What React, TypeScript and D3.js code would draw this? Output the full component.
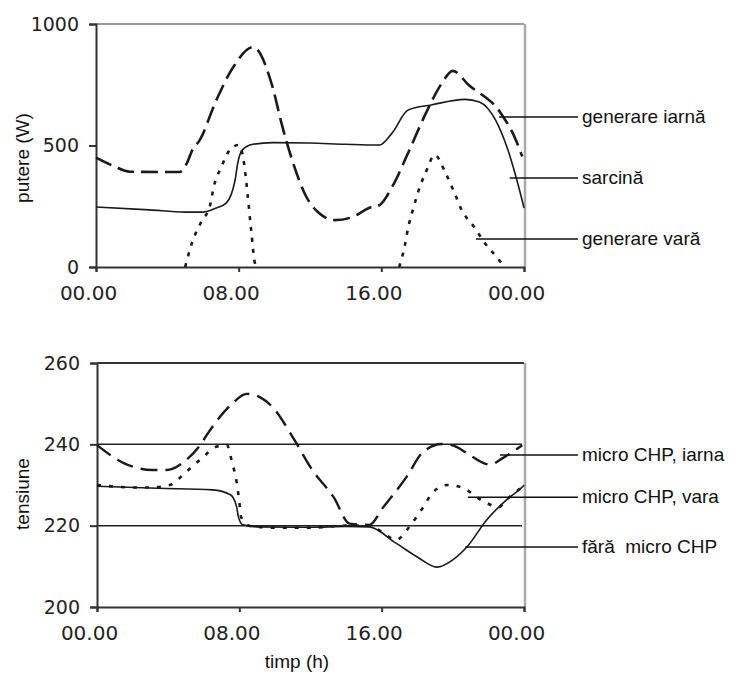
import React, { useEffect, useRef } from 'react';
import * as d3 from 'd3';

// axis ticks
const hourTicks = [0, 8, 16, 24];
const hourLabels = ['00.00', '08.00', '16.00', '00.00'];
const powerTicks = [0, 500, 1000];
const voltTicks = [200, 220, 240, 260];
const voltRefLines = [220, 240];

// top chart: putere (W)
const winterGenHours = [0, 1, 1.9, 4.7, 5.1, 5.4, 5.8, 6.75, 7.7, 8.8, 9.9, 10.4, 11, 11.8, 12.5, 13.4, 14.4, 15.3, 15.9, 16.6, 17.5, 18.5, 19.4, 20, 20.9, 22.7, 23.5, 23.9];
const winterGenValues = [450, 415, 392, 391, 428, 481, 520, 687, 823, 905, 741, 592, 440, 288, 222, 193, 206, 243, 255, 329, 469, 633, 757, 807, 749, 633, 530, 455];

const loadHours = [0, 3, 5, 6, 6.75, 7.3, 7.8, 7.95, 8.2, 8.8, 9.9, 12, 14, 15.9, 16.6, 17.5, 18.8, 20.7, 21.5, 22.4, 23.1, 23.7, 24];
const loadValues = [247, 235, 226, 226, 243, 263, 358, 428, 481, 505, 512, 510, 505, 502, 551, 646, 667, 690, 679, 605, 481, 330, 243];

const summerGenHours = [5, 5.4, 5.9, 6.4, 6.6, 7, 7.6, 8, 8.3, 8.5, 8.7, 8.9, 9, 12, 17, 17.3, 17.5, 17.8, 18.1, 18.5, 19, 19.6, 20.1, 20.5, 21.2, 21.8, 22.6, 22.9];
const summerGenValues = [0, 103, 185, 255, 329, 407, 490, 502, 428, 300, 152, 20, 0, null, 0, 82, 160, 243, 317, 391, 461, 387, 305, 235, 165, 99, 29, 0];

// bottom chart: tensiune
const chpWinterHours = [0, 1.5, 3.1, 3.9, 5, 5.8, 6.2, 7.6, 8.4, 9.2, 9.9, 11, 12.1, 13.3, 14.2, 15.3, 16.1, 17.4, 18.3, 19.4, 20.2, 20.8, 22.1, 22.8, 23.9];
const chpWinterValues = [239.8, 235.4, 233.7, 233.7, 236.1, 239.8, 242.5, 250, 252.4, 251.5, 249, 241.8, 233.7, 227, 220.5, 220.2, 224.6, 232, 238, 240.1, 239.4, 237.8, 235, 236.6, 239.8];

const chpSummerHours = [0, 1, 2, 3, 4.1, 5, 5.9, 6.7, 7.3, 7.6, 7.85, 8, 8.1, 8.6, 10, 12, 14, 15.3, 16, 16.8, 17.7, 18.3, 18.9, 19.7, 20.6, 21.6, 22.6, 23, 23.9];
const chpSummerValues = [230, 229.6, 229.4, 229.4, 230, 233.2, 236.6, 239.4, 239.8, 235.4, 230.7, 225.8, 222.1, 219.9, 219.5, 219.5, 220, 220, 218.5, 216.5, 220.6, 224.3, 228.3, 230, 229.2, 226.3, 224.6, 226.3, 229.5];

const noChpHours = [0, 3.4, 6.5, 7.5, 7.85, 7.95, 8.2, 9, 12, 14, 15.3, 16.8, 18, 19.1, 20, 20.8, 21.9, 23, 23.9, 24];
const noChpValues = [229.7, 229.2, 228.8, 227.6, 224.6, 222.1, 220.2, 219.7, 219.6, 219.8, 219.7, 215.7, 212.3, 209.8, 211.6, 214.8, 221.4, 226.3, 229.5, 230];

// labels with leader lines (start point on the curve: hour, value)
const topLabels = ['generare iarnă', 'sarcină', 'generare vară'];
const topLabelHours = [22.6, 23.2, 21.3];
const topLabelValues = [617, 366, 115];
const bottomLabels = ['micro CHP, iarna', 'micro CHP, vara', 'fără  micro CHP'];
const bottomLabelHours = [22.65, 20.85, 20.7];
const bottomLabelValues = [237.4, 227, 214.75];

const pairs = (hs, vs) => hs.map((h, i) => ({ h, v: vs[i] }));

const FONT = '"Liberation Sans", Arial, sans-serif';
const TICK_FONT = '"DejaVu Sans", sans-serif';

const App = () => {
  const ref = useRef(null);

  useEffect(() => {
    const svg = d3.select(ref.current);
    svg.selectAll('*').remove();

    function drawPanel(opts) {
      const { x, y, yTicks, series, labels, labelHours, labelValues, refLines, frameTopColor, yTitle, yTitleCenter } = opts;
      const g = svg.append('g');
      const [x0, x1] = x.range();
      const [yb, yt] = y.range();

      // frame top + right
      g.append('line').attr('x1', x0).attr('x2', x1).attr('y1', yt).attr('y2', yt)
        .attr('stroke', frameTopColor).attr('stroke-width', 2);
      g.append('line').attr('x1', x1 + 1).attr('x2', x1 + 1).attr('y1', yt).attr('y2', yb)
        .attr('stroke', '#aaa').attr('stroke-width', 2.5);

      (refLines || []).forEach(v => {
        g.append('line').attr('x1', x0).attr('x2', x1 - 2).attr('y1', y(v)).attr('y2', y(v))
          .attr('stroke', '#222').attr('stroke-width', 1.5);
      });

      const yAxis = g.append('g').attr('transform', `translate(${x0},0)`)
        .call(d3.axisLeft(y).tickValues(yTicks).tickSize(7).tickPadding(10).tickFormat(d3.format('d')));
      yAxis.select('.domain').attr('stroke', '#333').attr('stroke-width', 2);
      yAxis.selectAll('.tick line').attr('stroke', '#333').attr('stroke-width', 2);
      yAxis.selectAll('text').attr('font-family', TICK_FONT).attr('font-size', 19).attr('fill', '#222');

      const xAxis = g.append('g').attr('transform', `translate(0,${yb})`)
        .call(d3.axisBottom(x).tickValues(hourTicks).tickSize(5).tickPadding(14).tickFormat((d, i) => hourLabels[i]));
      xAxis.select('.domain').attr('stroke', '#333').attr('stroke-width', 2);
      xAxis.selectAll('.tick line').attr('stroke', '#333').attr('stroke-width', 2);
      xAxis.selectAll('text').attr('font-family', TICK_FONT).attr('font-size', 20).attr('fill', '#222')
        .attr('dx', -8);

      series.forEach(s => {
        const line = d3.line()
          .defined(d => d.v != null)
          .x(d => x(d.h))
          .y(d => y(d.v))
          .curve(d3.curveMonotoneX);
        g.append('path')
          .attr('d', line(s.data))
          .attr('fill', 'none')
          .attr('stroke', '#1a1a1a')
          .attr('stroke-width', s.width)
          .attr('stroke-dasharray', s.dash)
          .attr('stroke-linejoin', 'round');
      });

      labels.forEach((name, i) => {
        const sx = x(labelHours[i]);
        const sy = y(labelValues[i]);
        g.append('line').attr('x1', sx).attr('x2', 578).attr('y1', sy).attr('y2', sy)
          .attr('stroke', '#111').attr('stroke-width', 1.5);
        g.append('text').attr('x', 582).attr('y', sy).attr('dy', '0.33em')
          .attr('font-family', FONT).attr('font-size', 19).attr('fill', '#111')
          .style('white-space', 'pre')
          .text(name);
      });

      g.append('text')
        .attr('transform', `translate(29,${yTitleCenter}) rotate(-90)`)
        .attr('text-anchor', 'middle')
        .attr('font-family', FONT).attr('font-size', 19).attr('fill', '#111')
        .text(yTitle);
    }

    const xTop = d3.scaleLinear().domain([0, 24]).range([96, 524]);
    const yTop = d3.scaleLinear().domain([0, 1000]).range([267, 24]);
    drawPanel({
      x: xTop, y: yTop, yTicks: powerTicks,
      series: [
        { data: pairs(winterGenHours, winterGenValues), dash: '17,7', width: 2.6 },
        { data: pairs(loadHours, loadValues), dash: null, width: 1.6 },
        { data: pairs(summerGenHours, summerGenValues), dash: '4,7', width: 2.6 },
      ],
      labels: topLabels, labelHours: topLabelHours, labelValues: topLabelValues,
      refLines: [], frameTopColor: '#999', yTitle: 'putere (W)', yTitleCenter: 158,
    });

    const xBot = d3.scaleLinear().domain([0, 24]).range([97, 524]);
    const yBot = d3.scaleLinear().domain([200, 260]).range([607, 363]);
    drawPanel({
      x: xBot, y: yBot, yTicks: voltTicks,
      series: [
        { data: pairs(noChpHours, noChpValues), dash: null, width: 1.6 },
        { data: pairs(chpWinterHours, chpWinterValues), dash: '17,8', width: 2.4 },
        { data: pairs(chpSummerHours, chpSummerValues), dash: '4,8', width: 2.6 },
      ],
      labels: bottomLabels, labelHours: bottomLabelHours, labelValues: bottomLabelValues,
      refLines: voltRefLines, frameTopColor: '#333', yTitle: 'tensiune', yTitleCenter: 494,
    });

    svg.append('text')
      .attr('x', 297).attr('y', 668)
      .attr('text-anchor', 'middle')
      .attr('font-family', FONT).attr('font-size', 19).attr('fill', '#111')
      .text('timp (h)');
  }, []);

  return (
    <svg ref={ref} width={736} height={677}
      style={{ position: 'absolute', left: 0, top: 0, background: '#fff' }} />
  );
};

export default App;
